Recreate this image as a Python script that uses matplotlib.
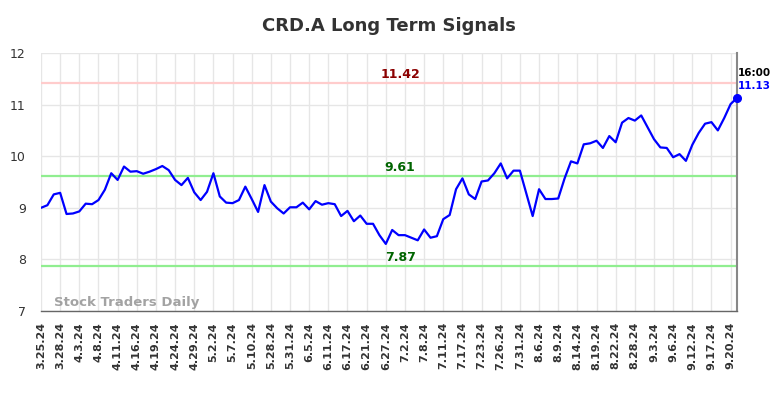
import matplotlib
matplotlib.use("Agg")
import matplotlib.pyplot as plt
import numpy as np

title = "CRD.A Long Term Signals"
prices = [
    9.00, 9.05, 9.26, 9.29, 8.88, 8.89, 8.93, 9.08, 9.07, 9.15,
    9.35, 9.67, 9.54, 9.80, 9.70, 9.71, 9.66, 9.70, 9.75, 9.81,
    9.73, 9.54, 9.44, 9.58, 9.30, 9.15, 9.31, 9.67, 9.22, 9.10,
    9.09, 9.15, 9.41, 9.17, 8.92, 9.44, 9.12, 8.99, 8.89, 9.01,
    9.01, 9.10, 8.97, 9.13, 9.06, 9.09, 9.07, 8.84, 8.94, 8.74,
    8.85, 8.69, 8.69, 8.47, 8.30, 8.57, 8.47, 8.47, 8.42, 8.37,
    8.58, 8.42, 8.45, 8.78, 8.86, 9.36, 9.57, 9.26, 9.17, 9.51,
    9.53, 9.67, 9.86, 9.57, 9.72, 9.72, 9.28, 8.84, 9.36, 9.17,
    9.17, 9.18, 9.57, 9.90, 9.86, 10.23, 10.25, 10.30, 10.16, 10.39,
    10.27, 10.65, 10.74, 10.69, 10.79, 10.56, 10.33, 10.17, 10.16, 9.98,
    10.04, 9.91, 10.22, 10.45, 10.63, 10.66, 10.50, 10.74, 11.01, 11.13,
]
tick_labels = [
    "3.25.24", "3.28.24", "4.3.24", "4.8.24", "4.11.24", "4.16.24", "4.19.24",
    "4.24.24", "4.29.24", "5.2.24", "5.7.24", "5.10.24", "5.28.24", "5.31.24",
    "6.5.24", "6.11.24", "6.17.24", "6.21.24", "6.27.24", "7.2.24", "7.8.24",
    "7.11.24", "7.17.24", "7.23.24", "7.26.24", "7.31.24", "8.6.24", "8.9.24",
    "8.14.24", "8.19.24", "8.22.24", "8.28.24", "9.3.24", "9.6.24", "9.12.24",
    "9.17.24", "9.20.24",
]
tick_step = 3
resistance = 11.42
support_levels = [9.61, 7.87]
last_time = "16:00"

fig = plt.figure(figsize=(7.84, 3.98), dpi=100)
ax = fig.add_axes([41/784, 1-311/398, (737-41)/784, (311-53)/398])

x = np.arange(len(prices))
ticks = np.arange(0, len(tick_labels) * tick_step, tick_step)

ax.set_xlim(0, len(prices) - 1)
ax.set_ylim(7, 12)
ax.set_xticks(ticks)
ax.set_xticklabels(tick_labels, rotation=90, fontsize=8, fontweight="bold", color="#333333")
ax.set_yticks([7, 8, 9, 10, 11, 12])
ax.set_yticklabels(["7", "8", "9", "10", "11", "12"], fontsize=9, color="#333333")
ax.tick_params(axis="both", length=0, pad=8)
ax.tick_params(axis="y", pad=11)
ax.grid(True, color="#e6e6e6", linewidth=1)
ax.set_axisbelow(True)
for s in ["top", "left"]:
    ax.spines[s].set_visible(False)
ax.spines["bottom"].set_color("#666666")
ax.spines["bottom"].set_linewidth(1)
ax.spines["right"].set_color("#888888")
ax.spines["right"].set_linewidth(1.5)

ax.axhline(resistance, color="#ffcccc", linewidth=1.6, zorder=2)
for lv in support_levels:
    ax.axhline(lv, color="#90ee90", linewidth=1.6, zorder=2)

mid = (len(prices) - 1) * 0.516
ax.text(mid, resistance + 0.04, f"{resistance:.2f}", color="#8b0000", fontsize=9,
        fontweight="bold", ha="center", va="bottom")
for lv in support_levels:
    ax.text(mid, lv + 0.04, f"{lv:.2f}", color="#006400", fontsize=9,
            fontweight="bold", ha="center", va="bottom")

ax.plot(x, prices, color="#0000ff", linewidth=1.6, zorder=3)
ax.plot(x[-1], prices[-1], "o", color="#0000ff", markersize=5.5, zorder=4, clip_on=False)
ax.text(x[-1] + 0.2, prices[-1] + 0.48, last_time, color="black", fontsize=7.5,
        fontweight="bold", ha="left", va="center")
ax.text(x[-1] + 0.2, prices[-1] + 0.24, f"{prices[-1]:.2f}", color="#0000ff", fontsize=7.5,
        fontweight="bold", ha="left", va="center")

ax.text(2, 7.17, "Stock Traders Daily", color="#999999", fontsize=9.5,
        fontweight="bold", ha="left", va="center", alpha=0.9)

fig.text(389/784, 1-26/398, title, fontsize=13, fontweight="bold", color="#333333",
         ha="center", va="center")

fig.savefig("out.png", dpi=100)
